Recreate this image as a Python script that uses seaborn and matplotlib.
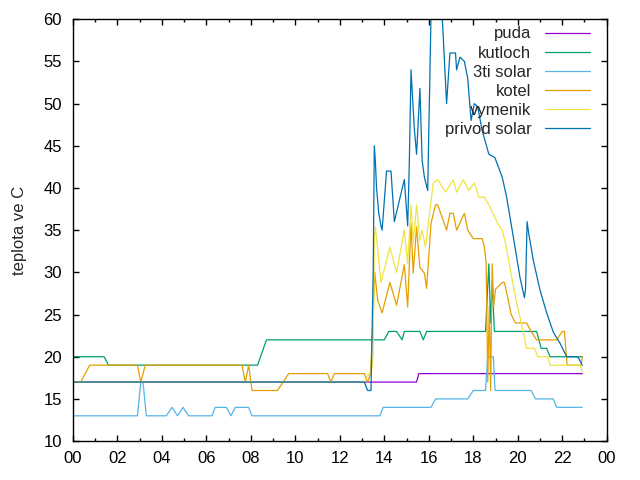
import pandas as pd
import matplotlib
matplotlib.use('Agg')
import matplotlib.pyplot as plt
import seaborn as sns
from matplotlib.ticker import MultipleLocator, FuncFormatter

# casy v hodinach, hodnoty ve stupnich C
puda_t = [0, 15.45, 15.55, 22.9]
puda_v = [17, 17, 18, 18]

kutloch_t = [0, 1.4, 1.6, 8.3, 8.7, 14.0, 14.2, 14.55, 14.8, 14.9, 15.6, 15.75, 15.9,
             18.55, 18.7, 18.78, 18.85, 18.95, 20.85, 21.05, 21.3, 21.45, 22.9]
kutloch_v = [20, 20, 19, 19, 22, 22, 23, 23, 22, 23, 23, 22, 23,
             23, 31, 24, 29, 23, 23, 21, 21, 20, 20]

solar3_t = [0, 2.9, 3.05, 3.15, 3.3, 4.2, 4.45, 4.7, 4.95, 5.2, 6.25, 6.4, 6.9, 7.1, 7.3, 7.9,
            8.05, 13.8, 13.95, 16.1, 16.3, 17.75, 18.0, 18.55, 18.65, 18.9, 18.98, 20.6, 20.8,
            21.6, 21.75, 22.9]
solar3_v = [13, 13, 17, 17, 13, 13, 14, 13, 14, 13, 13, 14, 14, 13, 14, 14,
            13, 13, 14, 14, 15, 15, 16, 16, 20, 20, 16, 16, 15,
            15, 14, 14]

kotel_t = [0, 0.35, 0.75, 2.9, 3.05, 3.25, 7.6, 7.75, 7.9, 8.05, 9.2, 9.7, 11.45, 11.6, 11.75,
           13.1, 13.25, 13.38, 13.47, 13.57, 13.7, 13.9, 14.25, 14.55, 14.9, 15.05, 15.2, 15.3,
           15.45, 15.6, 15.8, 15.9, 16.1, 16.3, 16.4, 16.8, 16.95, 17.1, 17.25, 17.6, 17.75,
           18.0, 18.4, 18.5, 18.58, 18.65, 18.72, 18.78, 18.85, 18.92, 19.0, 19.3, 19.4, 19.55,
           19.7, 19.9, 20.4, 20.6, 20.85, 21.75, 22.0, 22.1, 22.22, 22.85, 22.9]
kotel_v = [17, 17, 19, 19, 17, 19, 19, 17, 19, 16, 16, 18, 18, 17, 18,
           18, 17, 18, 23, 30, 26.7, 25.2, 28.8, 26.1, 30.9, 25.9, 35.8, 29.9,
           35.4, 30.6, 29.9, 28.1, 35.8, 38, 38, 35, 37, 37, 35, 37, 35,
           34, 34, 33, 31, 17, 26, 16, 31, 26, 28, 28.8, 28.8, 27,
           25, 24, 24, 23, 22, 22, 23, 23, 19, 19, 20]

vymenik_t = [0, 13.1, 13.3, 13.4, 13.5, 13.55, 13.6, 13.85, 14.25, 14.55, 14.9, 15.05, 15.2,
             15.3, 15.45, 15.6, 15.7, 15.85, 16.2, 16.4, 16.75, 17.1, 17.25, 17.55, 17.8, 18.05,
             18.25, 18.5, 18.7, 19.1, 19.3, 19.45, 19.65, 19.9, 20.1, 20.4, 20.75, 20.9, 21.35,
             21.45, 22.8, 22.9]
vymenik_v = [17, 17, 18, 18, 20, 34, 35.4, 28.8, 33, 30, 35, 31, 38,
             33.5, 38, 33.8, 35, 33, 40.6, 41, 39.5, 41, 39.5, 41, 39.7, 40.6,
             38.9, 38.9, 38, 35.8, 35, 33.5, 30.5, 27, 24.7, 21, 21, 20, 20,
             19, 19, 18.2]

privod_t = [0, 13.1, 13.25, 13.4, 13.5, 13.55, 13.6, 13.65, 13.75, 13.85, 13.9, 14.1, 14.3,
            14.45, 14.9, 15.05, 15.12, 15.2, 15.25, 15.35, 15.45, 15.6, 15.7, 15.8, 15.95, 16.1,
            16.3, 16.6, 16.8, 16.95, 17.2, 17.25, 17.4, 17.6, 17.75, 17.9, 18.05, 18.2, 18.4,
            18.7, 18.97, 19.3, 19.5, 19.8, 20.1, 20.3, 20.35, 20.42, 20.5, 20.7, 21.0, 21.3,
            21.6, 21.9, 22.2, 22.7, 22.9]
privod_v = [17, 17, 16, 16, 30, 45, 43, 40, 37, 35.5, 35, 42, 42,
            36, 41, 35.5, 42.5, 54, 51.6, 47, 44, 51.8, 43.3, 41.3, 39.7, 60.5,
            62, 60.5, 50, 56, 56, 54, 55.5, 55, 53, 48, 50, 49.6, 46.8,
            44, 43.6, 41.3, 38.9, 34.2, 29.4, 27, 28, 36, 34.5, 31.4, 27.9, 25.2,
            22.9, 21.6, 20, 20, 19]

nazvy = ["puda", "kutloch", "3ti solar", "kotel", "vymenik", "privod solar"]
barvy = ["#9400d3", "#009e73", "#56b4e9", "#e69f00", "#f0e442", "#0072b2"]

serie = [(puda_t, puda_v), (kutloch_t, kutloch_v), (solar3_t, solar3_v),
         (kotel_t, kotel_v), (vymenik_t, vymenik_v), (privod_t, privod_v)]
df = pd.concat([pd.DataFrame({"cas": t, "teplota": v, "cidlo": n})
                for n, (t, v) in zip(nazvy, serie)], ignore_index=True)

sns.set_style("ticks")
plt.rcParams['font.family'] = ['Liberation Sans', 'DejaVu Sans']

fig = plt.figure(figsize=(6.4, 4.8), dpi=100)
ax = fig.add_axes([0.114, 0.081, 0.834, 0.879])

sns.lineplot(data=df, x="cas", y="teplota", hue="cidlo", hue_order=nazvy,
             palette=barvy, estimator=None, linewidth=0.9, ax=ax)

leg = ax.get_legend()
handles = leg.legend_handles
labels = [t.get_text() for t in leg.get_texts()]
for h in handles:
    h.set_linewidth(0.9)
ax.legend(handles, labels, loc="upper right", bbox_to_anchor=(0.968, 0.983),
          frameon=False, markerfirst=False, fontsize=12, handlelength=2.7,
          handletextpad=0.8, labelspacing=0.25, borderaxespad=0, borderpad=0)

ax.set_xlim(0, 24)
ax.set_ylim(10, 60)
ax.xaxis.set_major_locator(MultipleLocator(2))
ax.xaxis.set_minor_locator(MultipleLocator(1))
ax.xaxis.set_major_formatter(FuncFormatter(lambda h, p: f"{int(round(h)) % 24:02d}"))
ax.yaxis.set_major_locator(MultipleLocator(5))

ax.tick_params(which="both", direction="in", top=True, right=True, color="black",
               labelsize=12, labelcolor="black")
ax.tick_params(which="major", length=4, width=1)
ax.tick_params(which="minor", length=2, width=1)
ax.tick_params(axis="x", pad=7)
ax.tick_params(axis="y", pad=8)
for s in ax.spines.values():
    s.set_color("black")
    s.set_linewidth(1)

ax.set_xlabel("")
ax.set_ylabel("teplota ve C", fontsize=12, labelpad=12)

plt.savefig("out.png")
